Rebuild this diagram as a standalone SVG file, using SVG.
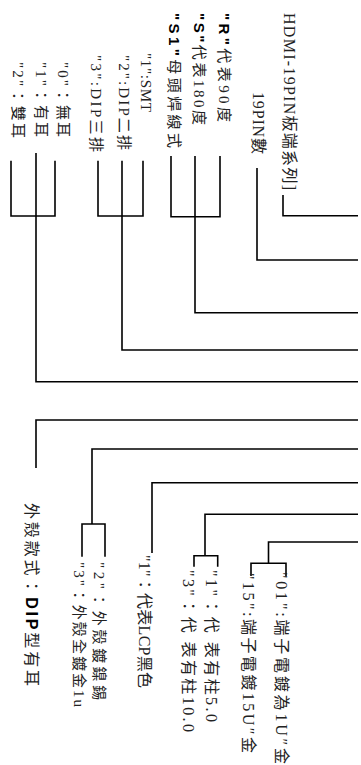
<svg xmlns="http://www.w3.org/2000/svg" width="361" height="765" viewBox="0 0 361 765">
<style>
.t{font-family:"Liberation Serif","Noto Sans CJK TC",serif;font-size:15px;fill:#222}
.L{font-size:16px}
.b{font-family:"Liberation Sans","Noto Sans CJK TC",sans-serif;font-weight:bold;fill:#000}
.c{fill:none;stroke:#000;stroke-width:1.6}
</style>
<rect width="361" height="765" fill="#fff"/>
<g id="connectors" class="c">
<path d="M358,215.7H283V195"/>
<path d="M358,260H257V168"/>
<path d="M358,312.7H195V156M171,156V216.7H220V156"/>
<path d="M358,350H122V160.7M98,160.7V216H143V160.7"/>
<path d="M358,381.7H36V153M11,160.7V216H55V160.7"/>
<path d="M358,420H36V468"/>
<path d="M358,449H92V524M82,556.7V524H105V556.7"/>
<path d="M358,482.7H152V553"/>
<path d="M358,514.3H205V555.7M194,566.7V555.7H217.7V566.7"/>
<path d="M358,542H268.5V563.3M251,576V563.3H286V576"/>
</g>
<g id="n-series"><text class="t L" transform="translate(284,13) rotate(90)" textLength="177">HDMI-19PIN板端系列]</text></g>
<g id="n-pins"><text class="t L" transform="translate(253,92) rotate(90)" textLength="62">19PIN數</text></g>
<g id="n-r"><text class="t" transform="translate(219,13) rotate(90)" textLength="109"><tspan class="b">"R"</tspan>代表90度</text></g>
<g id="n-s"><text class="t" transform="translate(194,13) rotate(90)" textLength="112"><tspan class="b">"S"</tspan>代表180度</text></g>
<g id="n-s1"><text class="t" transform="translate(169,13) rotate(90)" textLength="135"><tspan class="b">"S1"</tspan>母頭焊線式</text></g>
<g id="n-smt"><text class="t" transform="translate(141,53) rotate(90)" textLength="59">"1":SMT</text></g>
<g id="n-dip2"><text class="t" transform="translate(119,55) rotate(90)" textLength="95">"2":DIP二排</text></g>
<g id="n-dip3"><text class="t" transform="translate(91,55) rotate(90)" textLength="97">"3":DIP三排</text></g>
<g id="n-e0"><text class="t" transform="translate(58,62) rotate(90)" textLength="75">"0"：無耳</text></g>
<g id="n-e1"><text class="t" transform="translate(36,62) rotate(90)" textLength="75">"1"：有耳</text></g>
<g id="n-e2"><text class="t" transform="translate(13,62) rotate(90)" textLength="76">"2"：雙耳</text></g>
<g id="n-p01"><text class="t L" transform="translate(275.5,572) rotate(90)" textLength="192">"01":端子電鍍為1U″金</text></g>
<g id="n-p15"><text class="t L" transform="translate(242.5,573) rotate(90)" textLength="180">"15":端子電鍍15U″金</text></g>
<g id="n-c1"><text class="t L" transform="translate(205.5,570) rotate(90)" textLength="152">"1"：代 表有柱5.0</text></g>
<g id="n-c3"><text class="t L" transform="translate(182.5,570) rotate(90)" textLength="162">"3"：代 表有柱10.0</text></g>
<g id="n-lcp"><text class="t L" transform="translate(138.5,555) rotate(90)" textLength="133">"1"：代表LCP黑色</text></g>
<g id="n-h2"><text class="t" transform="translate(93.5,562) rotate(90)" textLength="138">"2"：外殼鍍鎳錫</text></g>
<g id="n-h3"><text class="t" transform="translate(73.5,562) rotate(90)" textLength="145">"3"：外殼全鍍金1u</text></g>
<g id="n-style"><text class="t L" transform="translate(25.5,503) rotate(90)" textLength="183">外殼款式：<tspan class="b">DIP</tspan>型有耳</text></g>
</svg>
